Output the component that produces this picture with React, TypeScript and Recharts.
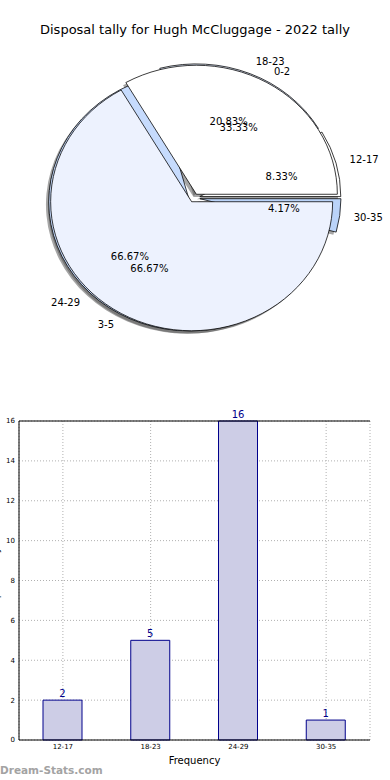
import React from 'react'
import {
  PieChart,
  Pie,
  Cell,
  Sector,
  BarChart,
  Bar,
  XAxis,
  YAxis,
  CartesianGrid,
  LabelList,
  ReferenceLine,
} from 'recharts'

const title = 'Disposal tally for Hugh McCluggage - 2022 tally'

// outer ring: disposal ranges and their game counts
const ranges = ['12-17', '18-23', '24-29', '30-35']
const counts = [2, 5, 16, 1]

// second pie drawn over it
const innerRanges = ['0-2', '3-5']
const innerCounts = [1, 2]

const yTicks = [0, 2, 4, 6, 8, 10, 12, 14, 16]

const outerData = ranges.map((range, i) => ({ range, count: counts[i] }))
const innerData = innerRanges.map((range, i) => ({ range, count: innerCounts[i] }))
const barData = ranges.map((range, i) => ({ range, count: counts[i] }))

const outerColors = ['#ffffff', '#dfe9fc', '#c6dbfd', '#bad3f8']
const innerColors = ['#ffffff', '#edf2fe']

const FONT = '"DejaVu Sans", sans-serif'
const RAD = Math.PI / 180
const CX = 194
const CY = 198
const R = 141
const K = 0.915 // pie is squashed vertically in the original

const squash = (cy: number) => `translate(0 ${cy * (1 - K)}) scale(1 ${K})`

// exploded wedge (optionally its shadow)
const makeWedge = (explode: number, shadow: boolean) => (p: any) => {
  const dx = explode * Math.cos(p.midAngle * RAD) + (shadow ? -2.8 : 0)
  const dy = -explode * Math.sin(p.midAngle * RAD) + (shadow ? 3 : 0)
  return (
    <g transform={squash(p.cy)}>
      <Sector
        cx={p.cx + dx}
        cy={p.cy + dy}
        innerRadius={0}
        outerRadius={p.outerRadius}
        startAngle={p.startAngle}
        endAngle={p.endAngle}
        fill={shadow ? '#4d4d4d' : p.fill}
        fillOpacity={shadow ? 0.5 : 1}
        stroke={shadow ? 'none' : '#000'}
        strokeWidth={shadow ? 0 : 0.8}
      />
    </g>
  )
}

const makeLabel = (explode: number) => (p: any) => {
  const cos = Math.cos(p.midAngle * RAD)
  const sin = Math.sin(p.midAngle * RAD)
  const ex = p.cx + explode * cos
  const ey = -explode * sin
  const px = ex + 0.6 * p.outerRadius * cos
  const py = p.cy + K * (ey - 0.6 * p.outerRadius * sin)
  const lx = ex + 1.1 * p.outerRadius * cos
  const ly = p.cy + K * (ey - 1.1 * p.outerRadius * sin)
  return (
    <g>
      <text x={px} y={py} textAnchor="middle" dominantBaseline="central" fontSize={10} fontFamily={FONT} fill="#000">
        {(p.percent * 100).toFixed(2)}%
      </text>
      <text
        x={lx}
        y={ly}
        textAnchor={lx > p.cx ? 'start' : 'end'}
        dominantBaseline="central"
        fontSize={10}
        fontFamily={FONT}
        fill="#000"
      >
        {p.name}
      </text>
    </g>
  )
}

const noShape = () => <g />

const yTitle = (p: any) => {
  const vb = p.viewBox || {}
  const y = (vb.y ?? 421) + (vb.height ?? 319) / 2
  return (
    <text x={-1} y={y} transform={`rotate(-90 -1 ${y})`} textAnchor="middle" fontSize={10} fontFamily={FONT} fill="#000">
      Disposal tally
    </text>
  )
}

export default function App() {
  const pieProps = {
    dataKey: 'count',
    nameKey: 'range',
    cx: CX,
    cy: CY,
    outerRadius: R,
    startAngle: 0,
    endAngle: 360,
    isAnimationActive: false,
  }

  return (
    <div style={{ position: 'absolute', left: 0, top: 0, width: 390, height: 780, background: '#fff' }}>
      <div
        style={{
          position: 'absolute',
          top: 22,
          left: 0,
          width: 390,
          textAlign: 'center',
          fontFamily: FONT,
          fontSize: 13,
          lineHeight: '16px',
        }}
      >
        {title}
      </div>

      <div style={{ position: 'absolute', top: 0, left: 0 }}>
        <PieChart width={390} height={390} margin={{ top: 0, right: 0, bottom: 0, left: 0 }}>
          {/* shadows first, then wedges, then all the texts */}
          <Pie {...pieProps} data={outerData} shape={makeWedge(6, true)} />
          <Pie {...pieProps} data={innerData} shape={makeWedge(4.7, true)} />
          <Pie {...pieProps} data={outerData} shape={makeWedge(6, false)}>
            {outerColors.map((c, i) => (
              <Cell key={i} fill={c} />
            ))}
          </Pie>
          <Pie {...pieProps} data={innerData} shape={makeWedge(4.7, false)}>
            {innerColors.map((c, i) => (
              <Cell key={i} fill={c} />
            ))}
          </Pie>
          <Pie {...pieProps} data={outerData} shape={noShape} label={makeLabel(6)} labelLine={false} />
          <Pie {...pieProps} data={innerData} shape={noShape} label={makeLabel(4.7)} labelLine={false} />
        </PieChart>
      </div>

      <div style={{ position: 'absolute', top: 400, left: 0 }}>
        <BarChart width={390} height={380} data={barData} margin={{ top: 21, right: 20, bottom: 10, left: 0 }}>
          <XAxis
            dataKey="range"
            interval={0}
            height={30}
            tickSize={2}
            tickMargin={2}
            tickLine={false}
            axisLine={{ stroke: '#000' }}
            tick={{ fontSize: 7, fontFamily: FONT, fill: '#000' }}
            label={{ value: 'Frequency', position: 'insideBottom', offset: 6, fontSize: 10, fontFamily: FONT, fill: '#000' }}
          />
          <YAxis
            domain={[0, 16]}
            ticks={yTicks}
            interval={0}
            width={19}
            tickSize={2}
            tickMargin={2}
            tickLine={false}
            axisLine={{ stroke: '#000' }}
            tick={{ fontSize: 7, fontFamily: FONT, fill: '#000' }}
            label={yTitle}
          />
          <YAxis yAxisId="right" orientation="right" width={0} tick={false} tickLine={false} axisLine={{ stroke: '#000' }} />
          <Bar dataKey="count" barSize={39} fill="#cdcde6" stroke="#00008b" strokeWidth={1} isAnimationActive={false}>
            <LabelList dataKey="count" position="top" offset={3} fontSize={10} fontFamily={FONT} fill="#00008b" />
          </Bar>
          <CartesianGrid stroke="#b0b0b0" strokeDasharray="1 2" />
          <ReferenceLine y={16} stroke="#000" />
        </BarChart>
      </div>

      <div
        style={{
          position: 'absolute',
          left: 0,
          top: 763,
          fontFamily: FONT,
          fontSize: 10.5,
          fontWeight: 'bold',
          color: '#a3a3a3',
          lineHeight: '14px',
        }}
      >
        Dream-Stats.com
      </div>
    </div>
  )
}
